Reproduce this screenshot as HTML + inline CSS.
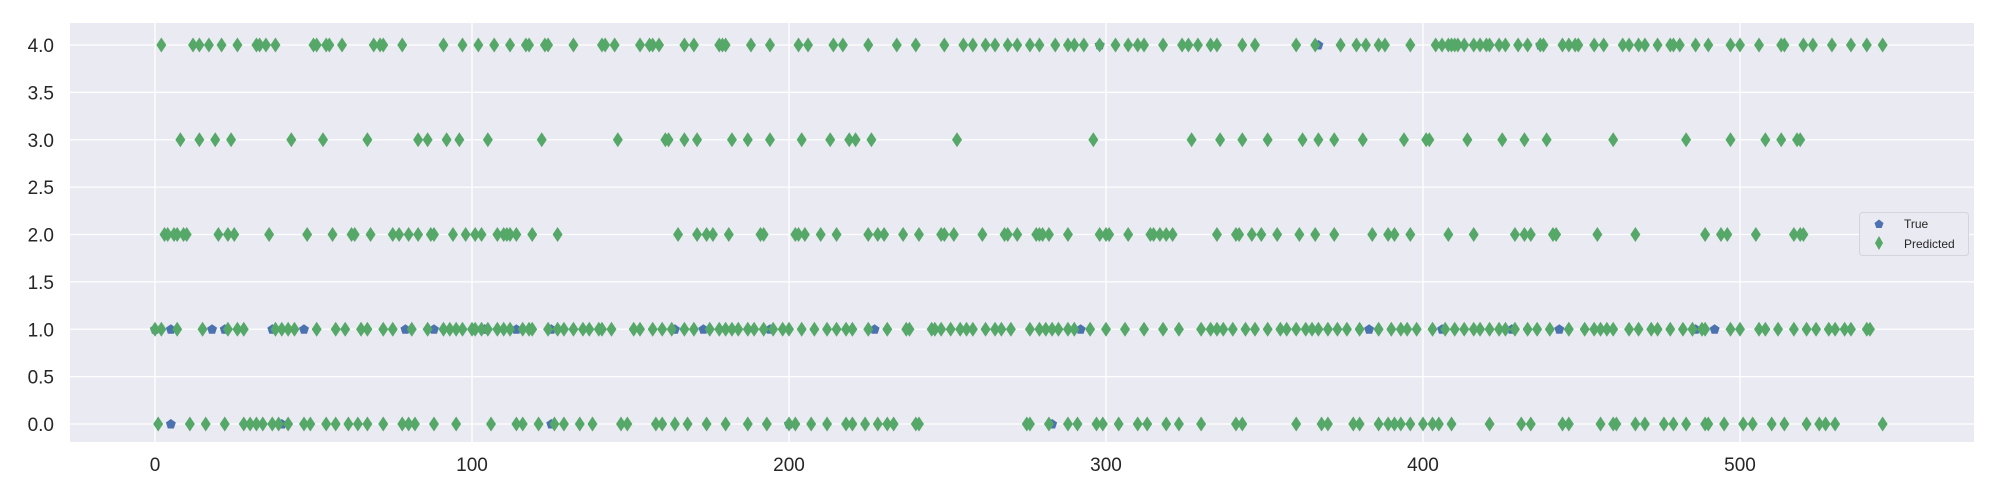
<!DOCTYPE html>
<html><head><meta charset="utf-8"><style>
html,body{margin:0;padding:0;background:#fff;}
svg{display:block;font-family:"Liberation Sans","DejaVu Sans",sans-serif;}
</style></head><body>
<svg id="chart" width="2000" height="500" viewBox="0 0 2000 500">
<rect x="70" y="23" width="1904" height="419" fill="#eaeaf2"/>
<g id="grid"></g>
<g id="ticks"></g>
<g id="trueG"></g>
<g id="predG"></g>
<g>
<rect x="1859.5" y="212.5" width="109" height="43" rx="3" fill="#eaeaf2" stroke="#d4d4dc" stroke-width="1"/>
<polygon points="1879,219.5 1883.5,223 1881.7,228 1876.3,228 1874.5,223" fill="#4c72b0"/>
<text x="1904" y="228" font-size="12" fill="#262626">True</text>
<polygon points="1879,236 1883,243 1879,250 1875,243" fill="#55a868"/>
<text x="1904" y="248" font-size="12" fill="#262626">Predicted</text>
</g>
</svg>
<script>
const yTicks=[0,0.5,1,1.5,2,2.5,3,3.5,4];
const xTicks=[0,100,200,300,400,500];
const pred4=[2,12,14,17,21,26,32,33,35,38,50,51,54,55,59,69,71,72,78,91,97,102,107,112,117,118,123,124,132,141,142,145,153,156,157,159,167,170,178,179,180,188,194,203,206,214,217,225,234,240,249,255,258,262,265,269,272,276,279,284,288,290,293,298,303,307,310,312,318,324,326,329,333,335,343,347,360,366,374,379,382,386,388,396,404,406,408,409,410,411,413,416,418,420,421,424,426,430,433,437,438,444,446,448,449,454,457,463,465,468,470,474,478,479,481,486,490,497,500,506,513,514,520,523,529,535,540,545];
const pred3=[8,14,19,24,43,53,67,83,86,92,96,105,122,146,161,162,167,171,182,187,194,204,213,219,221,226,253,296,327,336,343,351,362,367,372,381,394,401,402,414,425,432,439,460,483,497,508,513,518,519];
const pred2=[3,4,6,7,9,10,20,23,25,36,48,56,62,63,68,75,77,80,83,87,88,94,98,101,103,108,110,111,112,114,119,127,165,171,174,176,181,191,192,202,203,205,210,215,225,228,230,236,241,248,249,252,261,268,269,272,278,279,280,282,288,298,300,301,307,314,315,317,319,321,335,341,342,346,349,354,361,366,372,384,389,391,396,408,416,429,432,434,441,442,455,467,489,494,496,505,517,519,520];
const pred1=[0,2,7,15,23,26,28,38,40,42,44,51,57,60,65,67,72,75,81,86,91,93,95,97,100,101,103,105,108,110,112,116,118,119,124,127,129,132,135,137,140,141,144,151,153,157,160,163,167,170,175,178,180,182,184,187,189,192,195,198,200,204,208,212,215,218,220,225,231,237,238,245,246,248,251,254,256,258,262,265,267,270,276,279,281,283,285,288,290,295,300,306,312,318,323,330,333,335,337,340,344,347,351,355,357,360,363,365,367,370,373,376,380,386,390,393,395,398,403,407,410,413,416,418,421,424,426,429,433,436,440,446,451,454,456,458,460,465,468,472,474,478,482,485,488,489,497,500,506,508,512,517,521,524,528,530,533,535,540,541];
const pred0=[1,11,16,22,28,30,32,34,37,39,42,47,49,54,57,61,64,67,72,78,80,82,88,95,106,114,116,121,126,129,134,138,147,149,158,160,164,168,174,180,187,193,200,202,207,212,218,220,224,228,231,233,240,241,275,276,282,288,291,297,299,304,310,313,319,323,330,341,343,360,368,370,378,380,386,389,391,393,396,400,403,405,409,421,431,434,444,446,456,460,461,467,470,476,479,483,489,490,495,501,504,510,514,521,525,527,530,545];
const true4=[298,367,437];
const true1=[0,5,18,22,37,47,79,88,104,114,125,164,173,194,227,292,383,406,428,443,486,492];
const true0=[5,40,125,200,283];
const predRows=[[0,pred0],[1,pred1],[2,pred2],[3,pred3],[4,pred4]];
const trueRows=[[0,true0],[1,true1],[4,true4]];
const ns="http://www.w3.org/2000/svg";
function X(v){return 155+v*3.17;}
function Y(v){return 424-v*94.75;}
const grid=document.getElementById('grid'),ticks=document.getElementById('ticks');
yTicks.forEach(t=>{
 const l=document.createElementNS(ns,'line');
 l.setAttribute('x1',70);l.setAttribute('x2',1974);l.setAttribute('y1',Y(t));l.setAttribute('y2',Y(t));
 l.setAttribute('stroke','#fff');l.setAttribute('stroke-width','1.3');
 
 
 grid.appendChild(l);
 const tx=document.createElementNS(ns,'text');
 tx.setAttribute('x',54);tx.setAttribute('y',Y(t)+7);tx.setAttribute('text-anchor','end');
 tx.setAttribute('font-size','19');tx.setAttribute('fill','#262626');
 tx.textContent=t.toFixed(1);
 
 
 ticks.appendChild(tx);
});
xTicks.forEach(t=>{
 const l=document.createElementNS(ns,'line');
 l.setAttribute('y1',23);l.setAttribute('y2',442);l.setAttribute('x1',X(t));l.setAttribute('x2',X(t));
 l.setAttribute('stroke','#fff');l.setAttribute('stroke-width','1.3');
 
 
 grid.appendChild(l);
 const tx=document.createElementNS(ns,'text');
 tx.setAttribute('x',X(t));tx.setAttribute('y',471);tx.setAttribute('text-anchor','middle');
 tx.setAttribute('font-size','19');tx.setAttribute('fill','#262626');
 tx.textContent=t;
 
 
 ticks.appendChild(tx);
});
const tg=document.getElementById('trueG');
trueRows.forEach(([cls,arr])=>arr.forEach(i=>{
 const x=X(i),y=Y(cls);
 const p=document.createElementNS(ns,'polygon');
 p.setAttribute('points',`${x},${y-5} ${x+5},${y-1.5} ${x+3},${y+4.5} ${x-3},${y+4.5} ${x-5},${y-1.5}`);
 p.setAttribute('fill','#4c72b0');
 
 
 tg.appendChild(p);
}));
const pg=document.getElementById('predG');
predRows.forEach(([cls,arr])=>arr.forEach(i=>{
 const x=X(i),y=Y(cls);
 const p=document.createElementNS(ns,'polygon');
 p.setAttribute('points',`${x},${y-7.5} ${x+5},${y} ${x},${y+7.5} ${x-5},${y}`);
 p.setAttribute('fill','#55a868');
 
 
 pg.appendChild(p);
}));
</script>
</body></html>
